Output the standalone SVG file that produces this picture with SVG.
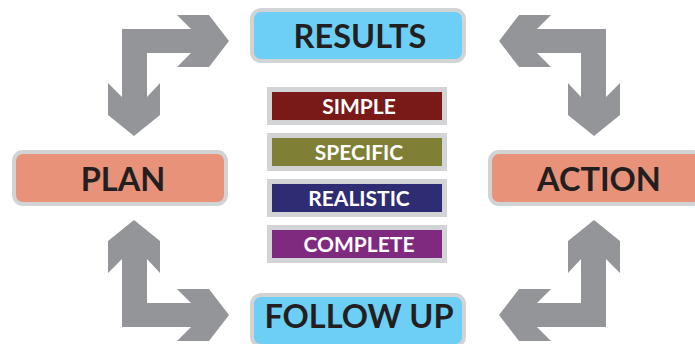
<svg xmlns="http://www.w3.org/2000/svg" xmlns:xlink="http://www.w3.org/1999/xlink" width="695" height="344" viewBox="0 0 695 344">
<style>
.big{font-family:Lato,"Liberation Sans",sans-serif;font-weight:bold;font-size:32.5px;fill:#231f20;text-anchor:middle}
.small{font-family:Lato,"Liberation Sans",sans-serif;font-weight:bold;font-size:21px;fill:#ffffff;text-anchor:middle}
.blue{fill:#6dcff6;stroke:#d1d3d4;stroke-width:4}
.orange{fill:#e8927a;stroke:#d1d3d4;stroke-width:4}
.tag{stroke:#d1d3d4;stroke-width:5}
.arr{fill:#939598}
</style>
<defs>
<polygon id="arrow" points="122,29 191,29 177,15 209,15 229,41 209,67 177,67 191,53 147,53 147,97 160,83 160,115 134,136 108,115 108,83 122,97"/>
</defs>
<rect width="695" height="344" fill="#ffffff"/>
<g id="connectors" class="arr">
<use xlink:href="#arrow"/>
<use xlink:href="#arrow" transform="matrix(-1 0 0 1 728 0)"/>
<use xlink:href="#arrow" transform="matrix(1 0 0 -1 0 356)"/>
<use xlink:href="#arrow" transform="matrix(-1 0 0 -1 728 356)"/>
</g>
<g id="results">
<rect class="blue" x="252" y="10" width="212" height="51" rx="9"/>
<text class="big" x="360" y="47.5">RESULTS</text>
</g>
<g id="followup">
<rect class="blue" x="252" y="295" width="212" height="51" rx="9"/>
<text class="big" x="359" y="328">FOLLOW UP</text>
</g>
<g id="plan">
<rect class="orange" x="14" y="152" width="212" height="52" rx="9"/>
<text class="big" x="123" y="191">PLAN</text>
</g>
<g id="action">
<rect class="orange" x="490" y="152" width="212" height="52" rx="9"/>
<text class="big" x="599" y="191">ACTION</text>
</g>
<g id="simple">
<rect class="tag" x="269.5" y="89.5" width="175" height="33" fill="#7a1a18"/>
<text class="small" x="359" y="114">SIMPLE</text>
</g>
<g id="specific">
<rect class="tag" x="269.5" y="135.5" width="175" height="33" fill="#7f8035"/>
<text class="small" x="359" y="160">SPECIFIC</text>
</g>
<g id="realistic">
<rect class="tag" x="269.5" y="181.5" width="175" height="33" fill="#2e2d74"/>
<text class="small" x="359" y="206">REALISTIC</text>
</g>
<g id="complete">
<rect class="tag" x="269.5" y="227.5" width="175" height="33" fill="#7f2a7e"/>
<text class="small" x="359" y="252">COMPLETE</text>
</g>
</svg>
